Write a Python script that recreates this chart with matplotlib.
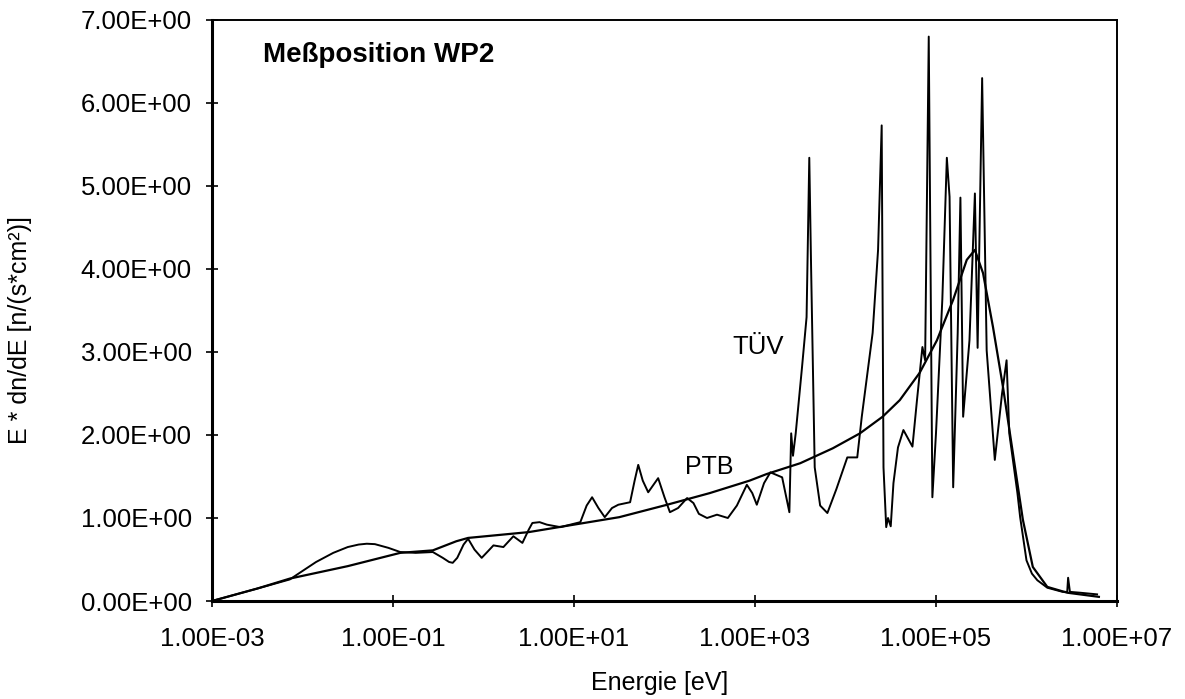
import numpy as np
import matplotlib
matplotlib.use("Agg")
from matplotlib import pyplot as plt

# values, energy given as log10(E / eV)
tuev_lg_e = [-3.00, -2.70, -2.40, -2.14, -2.03, -1.85, -1.66, -1.50, -1.38, -1.29,
             -1.20, -1.05, -0.92, -0.75, -0.56, -0.45, -0.38, -0.34, -0.29, -0.22,
             -0.17, -0.10, -0.02, 0.05, 0.11, 0.22, 0.33, 0.43, 0.50, 0.54,
             0.62, 0.70, 0.85, 1.07, 1.14, 1.20, 1.27, 1.34, 1.42, 1.49,
             1.62, 1.67, 1.71, 1.76, 1.82, 1.93, 2.00, 2.06, 2.15, 2.25,
             2.32, 2.38, 2.47, 2.58, 2.70, 2.80, 2.91, 2.97, 3.02, 3.10,
             3.17, 3.30, 3.38, 3.40, 3.42, 3.45, 3.52, 3.57, 3.60, 3.62,
             3.66, 3.72, 3.80, 3.90, 4.02, 4.13, 4.18, 4.30, 4.36, 4.40,
             4.42, 4.45, 4.47, 4.50, 4.53, 4.58, 4.64, 4.74, 4.79, 4.85,
             4.88, 4.92, 4.96, 5.00, 5.07, 5.12, 5.15, 5.19, 5.24, 5.27,
             5.30, 5.37, 5.43, 5.46, 5.51, 5.56, 5.65, 5.73, 5.78, 5.81,
             5.90, 5.93, 6.00, 6.06, 6.12, 6.23, 6.40, 6.45, 6.46, 6.48,
             6.59, 6.78]
tuev_flux = [0.00, 0.09, 0.18, 0.26, 0.34, 0.47, 0.58, 0.65, 0.68, 0.69,
             0.685, 0.64, 0.59, 0.58, 0.59, 0.52, 0.47, 0.46, 0.52, 0.68,
             0.75, 0.62, 0.52, 0.60, 0.67, 0.65, 0.78, 0.70, 0.86, 0.94,
             0.95, 0.92, 0.89, 0.95, 1.15, 1.25, 1.12, 1.01, 1.12, 1.16,
             1.19, 1.45, 1.64, 1.45, 1.31, 1.48, 1.25, 1.07, 1.12, 1.24,
             1.18, 1.05, 1.00, 1.04, 1.00, 1.15, 1.40, 1.30, 1.16, 1.42,
             1.55, 1.49, 1.07, 2.02, 1.75, 2.02, 2.82, 3.42, 5.34, 4.02,
             1.61, 1.15, 1.06, 1.35, 1.73, 1.73, 2.22, 3.23, 4.23, 5.73,
             1.61, 0.89, 1.00, 0.90, 1.42, 1.85, 2.06, 1.86, 2.42, 3.06,
             2.90, 6.80, 1.25, 2.02, 3.63, 5.34, 4.87, 1.37, 3.23, 4.86,
             2.22, 3.14, 4.91, 3.05, 6.30, 3.02, 1.70, 2.50, 2.90, 2.02,
             1.30, 1.01, 0.49, 0.33, 0.25, 0.16, 0.11, 0.11, 0.28, 0.11,
             0.10, 0.08]

ptb_lg_e = [-3.00, -2.50, -2.14, -1.50, -0.92, -0.56, -0.30, -0.17, 0.50, 1.00,
            1.50, 2.03, 2.50, 2.94, 3.13, 3.50, 3.86, 4.16, 4.41, 4.60,
            4.82, 5.01, 5.19, 5.34, 5.43, 5.52, 5.63, 5.74, 5.85, 5.96,
            6.07, 6.23, 6.45, 6.80]
ptb_flux = [0.00, 0.15, 0.27, 0.42, 0.58, 0.61, 0.72, 0.76, 0.83, 0.92,
            1.01, 1.16, 1.30, 1.45, 1.53, 1.66, 1.84, 2.02, 2.22, 2.42,
            2.75, 3.14, 3.63, 4.11, 4.23, 3.95, 3.30, 2.58, 1.78, 0.98,
            0.41, 0.17, 0.10, 0.05]

x_ticks = [1e-3, 1e-1, 1e1, 1e3, 1e5, 1e7]
x_tick_labels = ["1.00E-03", "1.00E-01", "1.00E+01", "1.00E+03", "1.00E+05", "1.00E+07"]
y_ticks = [0, 1, 2, 3, 4, 5, 6, 7]
y_tick_labels = ["0.00E+00", "1.00E+00", "2.00E+00", "3.00E+00",
                 "4.00E+00", "5.00E+00", "6.00E+00", "7.00E+00"]

plt.rcParams['font.family'] = ['Liberation Sans', 'DejaVu Sans']

fig = plt.figure(figsize=(11.85, 6.99), dpi=100)
ax = fig.add_axes([0.1789, 0.1402, 0.7637, 0.8312])

ax.plot(10 ** np.array(ptb_lg_e), ptb_flux, color="black", lw=1.6)
ax.plot(10 ** np.array(tuev_lg_e), tuev_flux, color="black", lw=1.4)

ax.set_xscale("log")
ax.set_xlim(1e-3, 1e7)
ax.set_ylim(0, 7)
ax.set_xticks(x_ticks)
ax.set_xticklabels(x_tick_labels)
ax.minorticks_off()
ax.set_yticks(y_ticks)
ax.set_yticklabels(y_tick_labels)
ax.tick_params(direction="inout", length=9, width=1.2, labelsize=18.5)
ax.tick_params(axis="x", pad=14)
ax.tick_params(axis="y", pad=10)

for side in ["top", "right"]:
    ax.spines[side].set_linewidth(1.4)
for side in ["left", "bottom"]:
    ax.spines[side].set_linewidth(2.2)

# axis titles placed where the scan has them
fig.text(0.557, 0.023, "Energie [eV]", fontsize=18, ha="center", va="center")
fig.text(0.017, 0.528, "E * dn/dE [n/(s*cm²)]", fontsize=18, rotation=90,
         ha="center", va="center")

ax.text(0.056, 0.94, "Meßposition WP2", transform=ax.transAxes,
        fontsize=20, fontweight="bold", ha="left", va="center")
ax.text(10 ** 3.03, 3.06, "TÜV", fontsize=18.5, ha="center", va="center")
ax.text(10 ** 2.50, 1.61, "PTB", fontsize=18, ha="center", va="center")

fig.savefig("out.png", dpi=100)
